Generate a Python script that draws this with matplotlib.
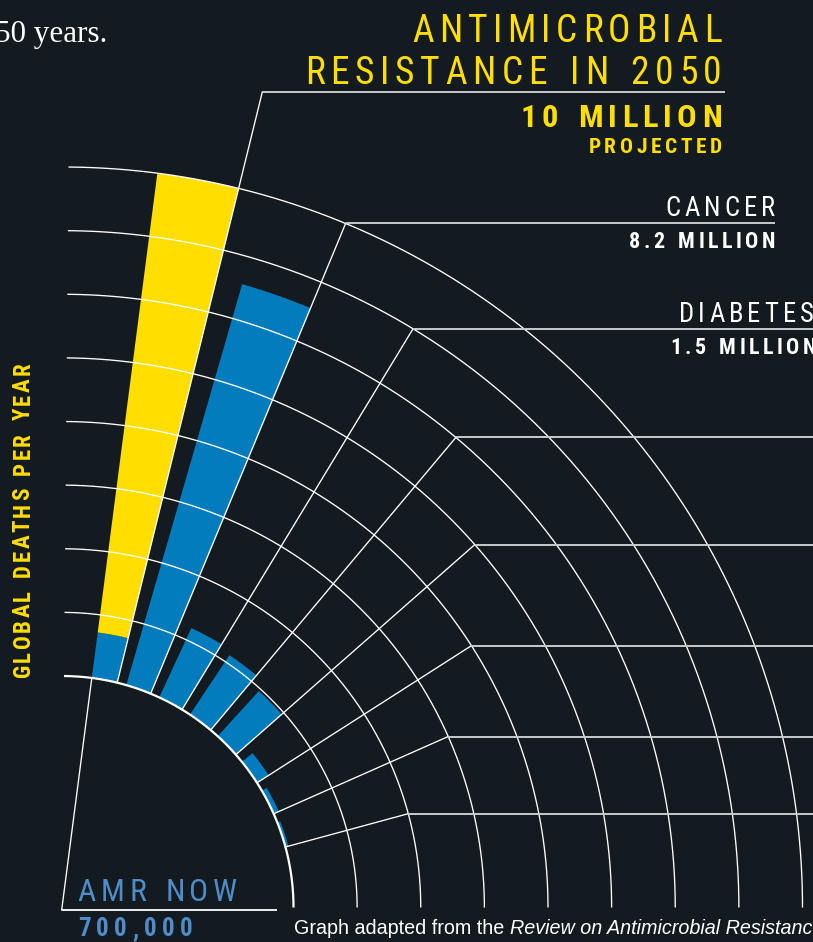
import numpy as np
import matplotlib
matplotlib.use('Agg')
import matplotlib.pyplot as plt
from matplotlib import font_manager as fm
from matplotlib.font_manager import FontProperties

# Datos: muertes por año (millones)
causes = ['AMR in 2050', 'Cancer', 'Diabetes', 'Diarrhoeal disease',
          'Road traffic accidents', 'Measles', 'Cholera', 'Tetanus']
deaths = [10, 8.2, 1.5, 1.4, 1.2, 0.27, 0.11, 0.06]
amr_now = 0.9
rings = [0, 1.25, 2.5, 3.75, 5, 6.25, 7.5, 8.75, 10]
leader_r = [11.95, 10, 8.75, 7.5, 6.25, 5, 3.75, 2.5]
leader_end = [725, 775, 900, 900, 900, 900, 900, 900]

title_lines = ['ANTIMICROBIAL', 'RESISTANCE IN 2050']
label_names = ['CANCER', 'DIABETES']
label_values = ['10 MILLION', '8.2 MILLION', '1.5 MILLION']

BG = '#141b20'
YELLOW = '#ffde00'
BLUE = '#037cbe'
LIGHTBLUE = '#4f8dca'
HLINE = '#c8cbcc'

avail = {f.name for f in fm.fontManager.ttflist}


def pick(*names):
    for n in names:
        if n in avail:
            return n
    return 'DejaVu Sans'


COND = pick('Roboto Condensed', 'Liberation Sans Narrow', 'DejaVu Sans')
SANS = pick('Liberation Sans', 'DejaVu Sans')
SERIF = pick('Liberation Serif', 'DejaVu Serif')

W, H = 813, 942
fig = plt.figure(figsize=(W / 100, H / 100), dpi=100, facecolor=BG)

# centro del cuarto de círculo (px) y escala radial
CX, CY = 62, 907.5
R0 = 231.5          # radio del eje cero
PX = 50.9           # px por millón
RAX = 950           # radio del eje polar en px
RORIGIN = -R0 / PX
RMAX = (RAX - R0) / PX

axp = fig.add_axes([(CX - RAX) / W, (H - (CY + RAX)) / H, 2 * RAX / W, 2 * RAX / H],
                   projection='polar')
axp.set_theta_zero_location('N')
axp.set_theta_direction(-1)
axp.set_ylim(0, RMAX)
axp.set_rorigin(RORIGIN)
axp.set_facecolor('none')
axp.grid(False)
axp.set_xticks([])
axp.set_yticks([])
for sp in axp.spines.values():
    sp.set_visible(False)
    sp.set_color('none')
    sp.set_linewidth(0)

n = len(deaths)
theta0 = np.deg2rad(7.4 + 8.72 * np.arange(n))
width = np.deg2rad(6.4)

# barras
axp.bar(theta0[1:], deaths[1:], width=width, bottom=0, align='edge', color=BLUE, lw=0)
axp.bar(theta0[0], amr_now, width=width, bottom=0, align='edge', color=BLUE, lw=0)
axp.bar(theta0[0], deaths[0] - amr_now, width=width, bottom=amr_now, align='edge',
        color=YELLOW, lw=0)

# arcos
th = np.linspace(np.deg2rad(0.5), np.pi / 2, 400)
for r in rings:
    axp.plot(th, np.full_like(th, r), color='white', lw=1.6 if r == 0 else 0.95,
             clip_on=False, solid_capstyle='butt', zorder=3)

# líneas radiales
for t, lr in zip(theta0 + width, leader_r):
    axp.plot([t, t], [0, lr], color='white', lw=0.95, clip_on=False, zorder=3)

# capa superior en px
ov = fig.add_axes([0, 0, 1, 1])
ov.set_xlim(0, W)
ov.set_ylim(H, 0)
ov.axis('off')
ov.patch.set_visible(False)

to_ov = ov.transData.inverted()


def pol2px(t, r):
    return to_ov.transform(axp.transData.transform((t, r)))


for t, lr, xe in zip(theta0 + width, leader_r, leader_end):
    x, y = pol2px(t, lr)
    ov.plot([x, xe], [y, y], color=HLINE, lw=1.4, solid_capstyle='butt')

# línea de "AMR NOW"
p_in = pol2px(theta0[0], 0)
p_c = pol2px(theta0[0], RORIGIN)
ybot = 910
k = (ybot - p_in[1]) / (p_c[1] - p_in[1])
xb = p_in[0] + k * (p_c[0] - p_in[0])
ov.plot([p_in[0], xb], [p_in[1], ybot], color='white', lw=0.95)
ov.plot([xb, 277.4], [ybot, ybot], color='white', lw=1.3, solid_capstyle='butt')

renderer = fig.canvas.get_renderer()


def char_w(ch, fp):
    t = ov.text(0, 0, ch, fontproperties=fp)
    w = t.get_window_extent(renderer).width
    t.remove()
    return w


def spaced(s, y, fp, color, left=None, right=None, track=None, space=0.3, rot=False):
    size_px = fp.get_size_in_points() * 100 / 72
    ws = [0 if c == ' ' else char_w(c, fp) for c in s]
    sp = space * size_px
    extra = sp * s.count(' ')
    if track is None:
        track = ((right - left) - sum(ws) - extra) / (len(s) - 1)
    total = sum(ws) + extra + track * (len(s) - 1)
    if left is None:
        left = right - total
    pos = 0
    for c, w in zip(s, ws):
        if c == ' ':
            pos += sp + track
            continue
        if rot:
            ov.text(y, left - pos, c, fontproperties=fp, color=color, rotation=90,
                    rotation_mode='anchor', ha='left', va='baseline')
        else:
            ov.text(left + pos, y, c, fontproperties=fp, color=color,
                    ha='left', va='baseline')
        pos += w + track
    return track


f_title = FontProperties(family=COND, weight='normal', size=27)
spaced(title_lines[0], 41.7, f_title, YELLOW, left=412, right=721.6)
spaced(title_lines[1], 84, f_title, YELLOW, left=304.8, right=721.6)
spaced(label_values[0], 127.3, FontProperties(family=COND, weight='bold', size=23.4),
       YELLOW, left=520, right=721.6)
spaced('PROJECTED', 152.7, FontProperties(family=COND, weight='bold', size=15.4),
       YELLOW, left=588.4, right=721.6)

f_name = FontProperties(family=COND, weight='normal', size=19.2)
f_val = FontProperties(family=COND, weight='bold', size=15.8)
tc = spaced(label_names[0], 216, f_name, 'white', left=665, right=775)
tv = spaced(label_values[1], 248.3, f_val, 'white', left=628.8, right=775)
spaced(label_names[1], 321.7, f_name, 'white', left=679, track=tc)
spaced(label_values[2], 354, f_val, 'white', left=670, track=tv)

spaced('AMR NOW', 901, FontProperties(family=COND, weight='normal', size=22.8),
       LIGHTBLUE, left=77.8, right=237.4)
spaced('700,000', 936.5, FontProperties(family=COND, weight='bold', size=18),
       LIGHTBLUE, left=77.8, right=192.8)

# texto vertical (de abajo hacia arriba)
spaced('GLOBAL DEATHS PER YEAR', 29.5, FontProperties(family=COND, weight='bold', size=16.5),
       YELLOW, left=677.3, right=677.3 + (677.3 - 362.7), space=0.35, rot=True)

ov.text(107.5, 41.7, '50 years.', family=SERIF, size=22.4, color='white',
        ha='right', va='baseline')

ov.text(294, 933.5, 'Graph adapted from the ', family=SANS, size=14.2, color='white',
        ha='left', va='baseline')
ov.text(509.6, 933.5, 'Review on Antimicrobial Resistance', family=SANS, style='italic',
        size=14.2, color='white', ha='left', va='baseline')

fig.savefig('out.png', dpi=100, facecolor=BG)
